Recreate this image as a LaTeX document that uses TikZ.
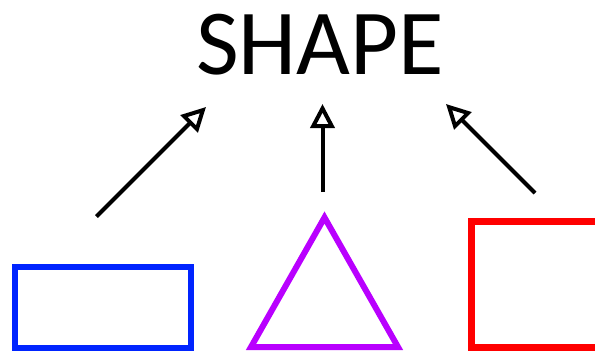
\documentclass[tikz,border=0pt]{standalone}
\usepackage{fontspec}
\newfontfamily\titlefont{Carlito}
\usepackage{tikz}
\usetikzlibrary{arrows.meta, positioning}
\usepackage{xcolor}
\definecolor{shapeblue}{RGB}{0,36,255}
\definecolor{shapepurple}{RGB}{185,0,255}
\definecolor{shapered}{RGB}{255,0,0}

\begin{document}
\begin{tikzpicture}[x=1pt, y=-1pt,
  pointer/.style={line width=4pt, -{Triangle[open, length=24pt, width=24pt]}},
  outline/.style={line width=6pt}
]
\clip (0,0) rectangle (595,351);

% Title
\node[anchor=base, inner sep=0pt, font=\titlefont\fontsize{93}{93}\selectfont] (title) at (320,74) {SHAPE};

% Arrow ends
\coordinate (lefttail) at (96.5,216.5);
\coordinate (lefthead) at (206,107);
\coordinate (midtail) at (322.5,192);
\coordinate (midhead) at (322.5,104);
\coordinate (righttail) at (535,193);
\coordinate (righthead) at (446,104);

\draw[pointer] (lefttail) -- (lefthead);
\draw[pointer] (midtail) -- (midhead);
\draw[pointer] (righttail) -- (righthead);

% Shapes
\draw[outline, shapeblue] (15,266.5) rectangle (190.5,347.5);
\draw[outline, shapepurple] (251,347) -- (324.5,217.5) -- (398,347) -- cycle;
\draw[outline, shapered, line width=7pt] (471,221.5) rectangle (620,347.5);
\end{tikzpicture}
\end{document}
